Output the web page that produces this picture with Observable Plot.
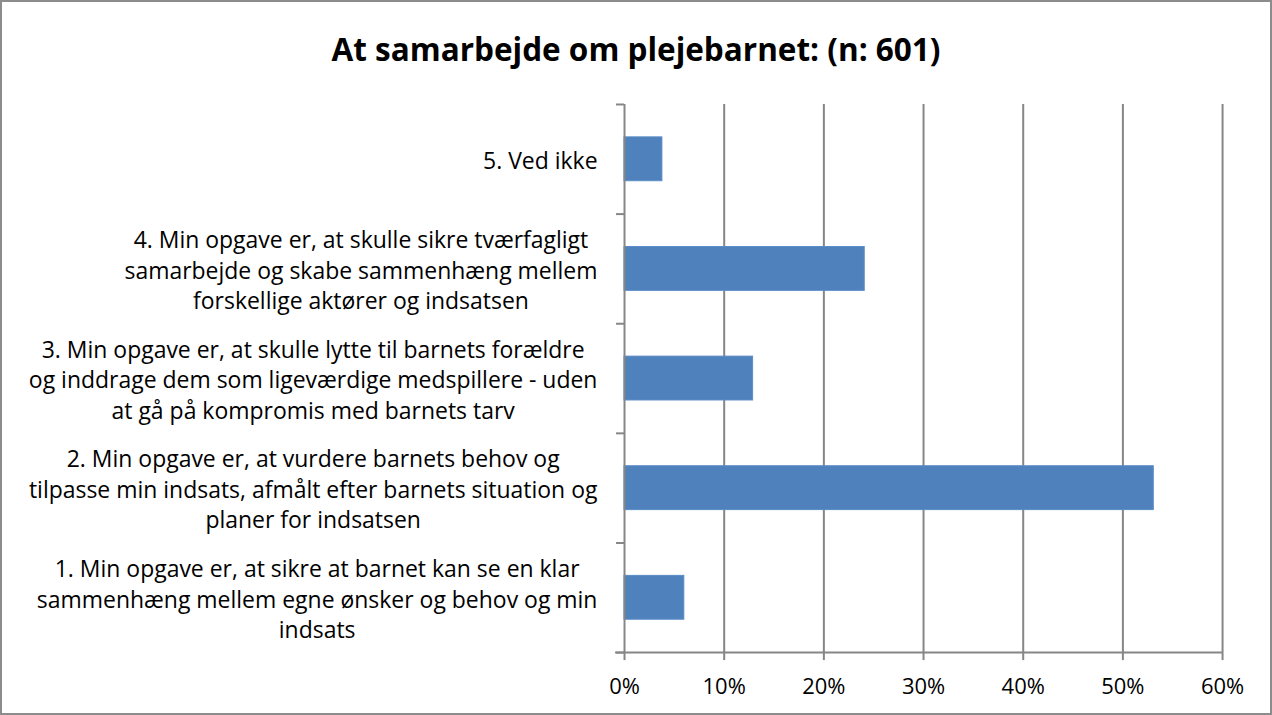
<!DOCTYPE html>
<html>
<head>
<meta charset="utf-8">
<script src="https://cdn.jsdelivr.net/npm/d3@7"></script>
<script src="https://cdn.jsdelivr.net/npm/@observablehq/plot@0.6"></script>
<style>
  html, body { margin: 0; padding: 0; background: #fff; }
  #frame { position: relative; width: 1272px; height: 715px; box-sizing: border-box; border: 2px solid #8c8c8c; font-family: "Open Sans", Lato, sans-serif; overflow: hidden; }
  #title { position: absolute; left: 0; right: 0; top: 26px; text-align: center; font-size: 31.5px; font-weight: bold; line-height: 42px; color: #000; }
  #chart { position: absolute; left: -2px; top: 90px; }
</style>
</head>
<body>
<div id="frame">
  <div id="title">At samarbejde om plejebarnet: (n: 601)</div>
  <div id="chart"></div>
</div>
<script>
const categories = [
  "1. Min opgave er, at sikre at barnet kan se en klar\nsammenhæng mellem egne ønsker og behov og min\nindsats",
  "2. Min opgave er, at vurdere barnets behov og\ntilpasse min indsats, afmålt efter barnets situation og\nplaner for indsatsen",
  "3. Min opgave er, at skulle lytte til barnets forældre\nog inddrage dem som ligeværdige medspillere - uden\nat gå på kompromis med barnets tarv",
  "4. Min opgave er, at skulle sikre tværfagligt\nsamarbejde og skabe sammenhæng mellem\nforskellige aktører og indsatsen",
  "5. Ved ikke"
];
const values = [6.0, 53.1, 12.9, 24.1, 3.8];
const xTicks = [0, 10, 20, 30, 40, 50, 60];
const bandEdges = [0, 1, 2, 3, 4, 5];

const FONT = "'Open Sans', Lato, sans-serif";
const FS = 23;
const TICK_FS = 22;
const data = categories.map((c, i) => ({label: c, idx: i, value: values[i]}));
const barPad = 0.3;

const ctx = document.createElement("canvas").getContext("2d");
ctx.font = `${FS}px ${FONT}`;
const blockWidth = s => Math.max(...s.split("\n").map(l => ctx.measureText(l).width));

const W = 1272, H = 620;
const ML = 625, labelRight = 598;

const labelMarks = data.map(d =>
  Plot.text([d], {
    y: r => r.idx + 0.5, text: "label", frameAnchor: "left",
    dx: (labelRight - blockWidth(d.label) / 2) - ML,
    textAnchor: "middle", lineHeight: 30.5 / FS, fontSize: FS, fill: "#000"
  })
);

const chart = Plot.plot({
  width: W,
  height: H,
  marginLeft: ML,
  marginRight: 48,
  marginTop: 12,
  marginBottom: 59,
  style: {fontFamily: FONT, fontSize: FS + "px", color: "#000", background: "transparent"},
  x: {domain: [0, 60], ticks: xTicks, label: null},
  y: {domain: [0, 5], ticks: bandEdges, label: null},
  marks: [
    Plot.ruleX(xTicks.filter(d => d > 0), {stroke: "#868686", strokeWidth: 2}),
    Plot.rectX(data, {x1: 0, x2: "value", y1: d => d.idx + barPad, y2: d => d.idx + 1 - barPad, fill: "#4F81BD", stroke: "#5B8CC7", strokeWidth: 1}),
    Plot.ruleX([0], {stroke: "#868686", strokeWidth: 2}),
    Plot.ruleY([0], {x1: -0.9, x2: 60, stroke: "#868686", strokeWidth: 2, clip: false}),
    Plot.axisY({ticks: bandEdges, tickSize: 8, tickFormat: () => "", stroke: "#868686", strokeWidth: 2, tickPadding: 0, label: null}),
    Plot.axisX({ticks: xTicks, tickSize: 8, tickFormat: d => d + "%", stroke: "#868686", strokeWidth: 2, tickPadding: 18, fontSize: TICK_FS, fill: "#000", label: null}),
    ...labelMarks
  ]
});
document.getElementById("chart").appendChild(chart);
</script>
</body>
</html>
